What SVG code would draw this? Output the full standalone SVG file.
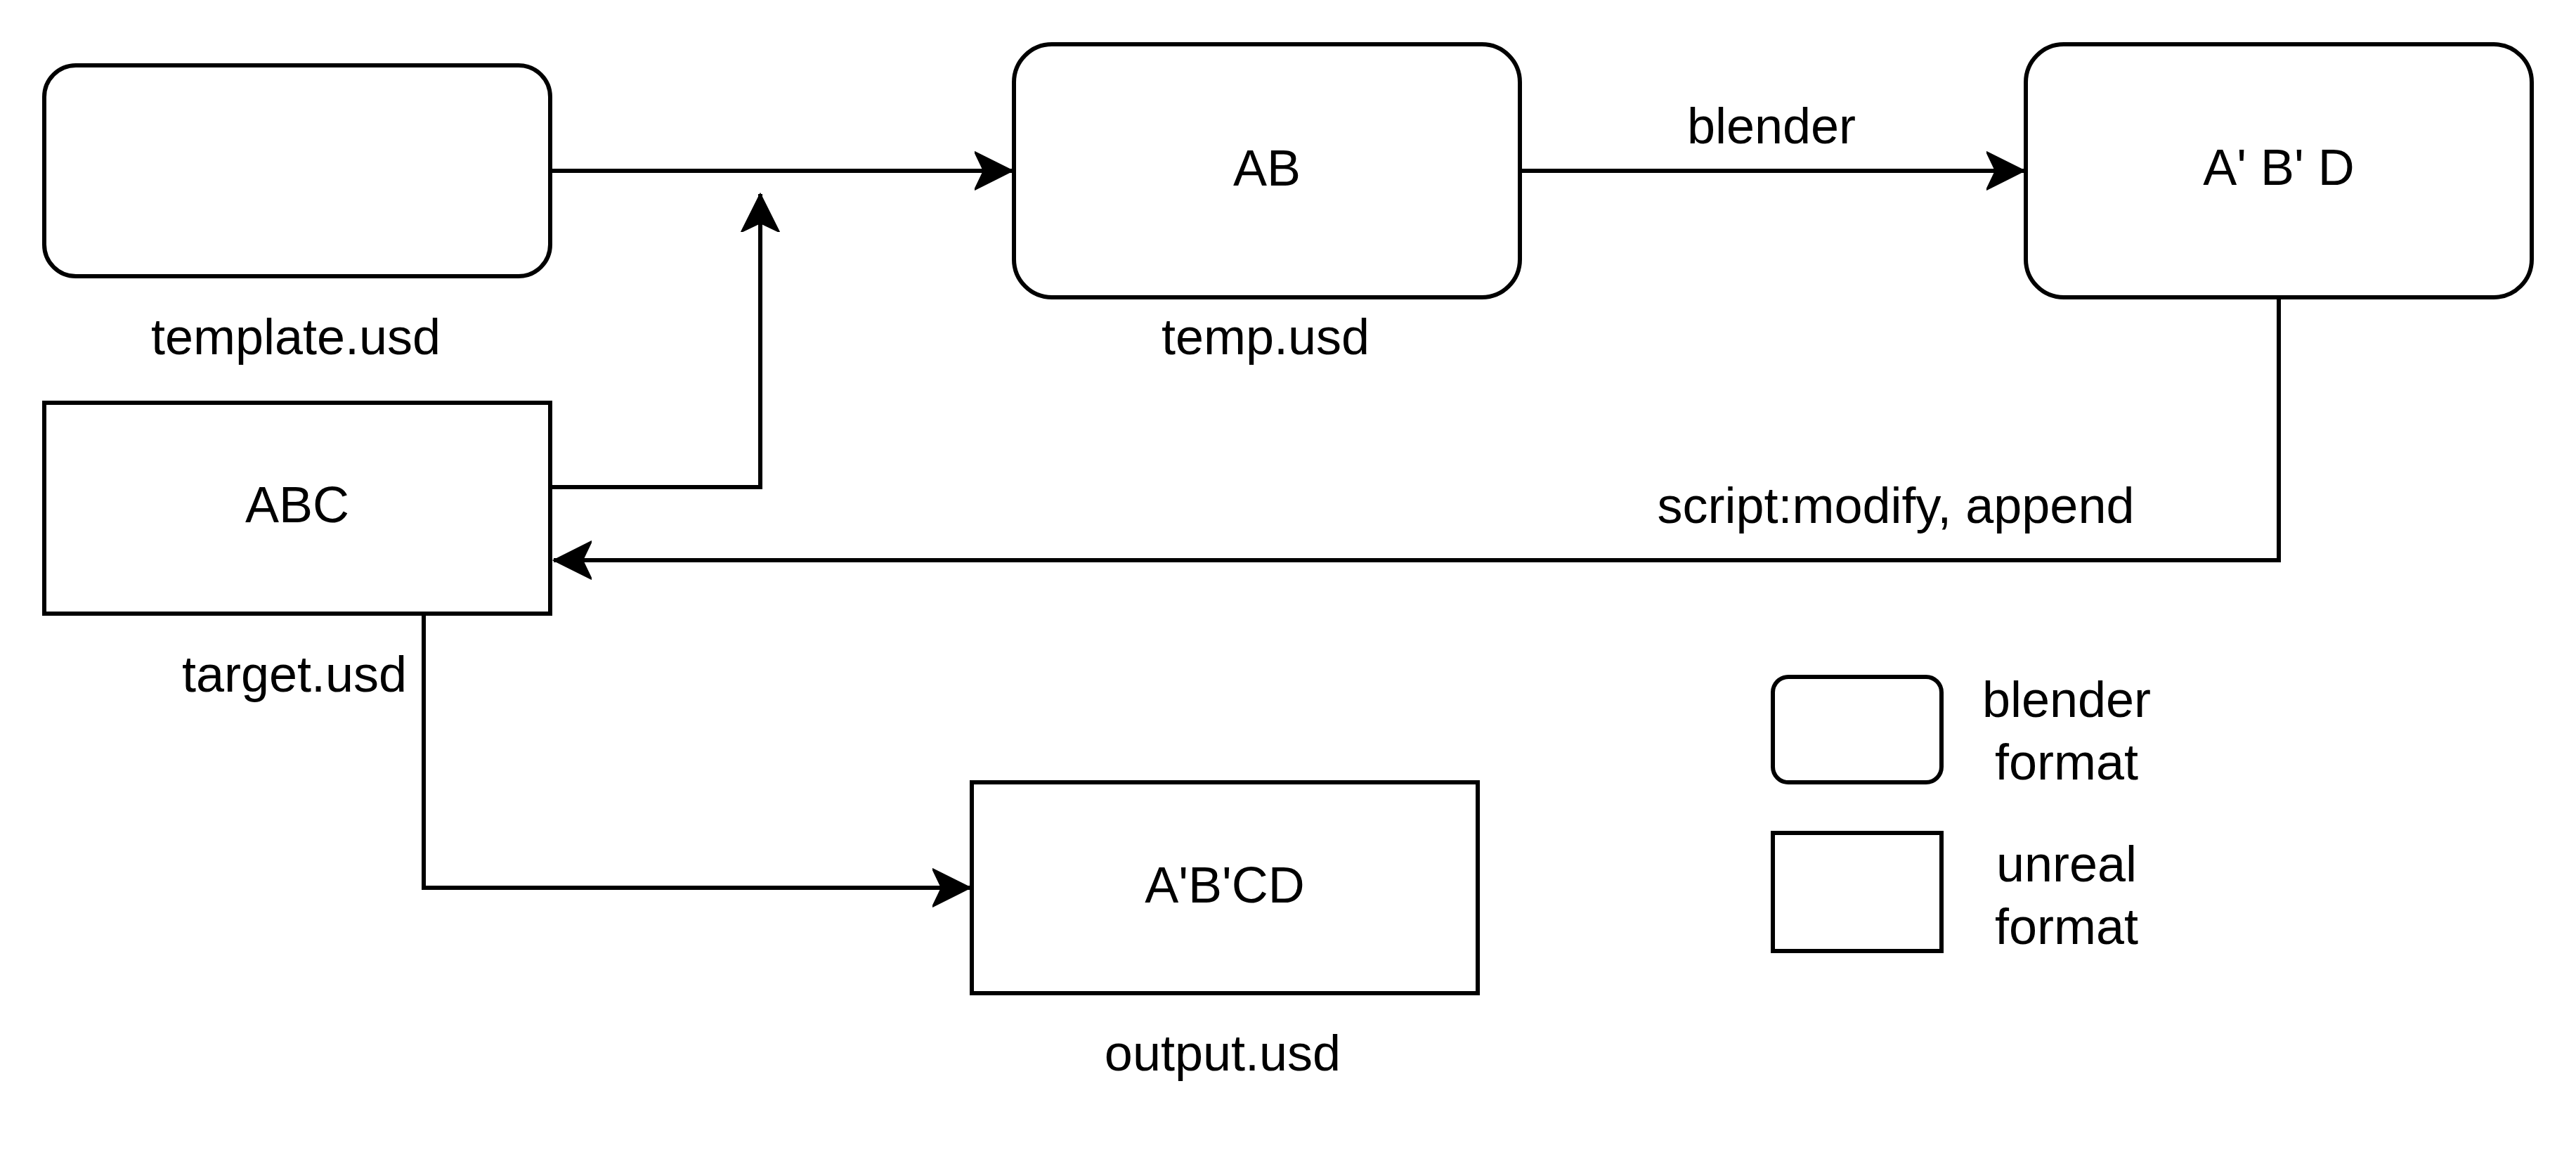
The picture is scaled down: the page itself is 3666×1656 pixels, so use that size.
<svg xmlns="http://www.w3.org/2000/svg" width="3666" height="1656" viewBox="0 0 3666 1656">
<style>
.box{fill:#fff;stroke:#000;stroke-width:6}
.ln{fill:none;stroke:#000;stroke-width:6}
text{font-family:"Liberation Sans",Arial,Helvetica,sans-serif;font-size:72px;fill:#000;text-anchor:middle}
</style>
<defs>
<marker id="arr" viewBox="0 0 56 56" refX="54" refY="28" markerWidth="56" markerHeight="56" markerUnits="userSpaceOnUse" orient="auto">
<path d="M54 28 L0 1 L13 28 L0 55 Z" fill="#000" stroke="#000" stroke-width="2"/>
</marker>
</defs>
<rect width="3666" height="1656" fill="#fff"/>
<g id="connectors">
<path class="ln" d="M783 243 L1441 243" marker-end="url(#arr)"/>
<path class="ln" d="M783 693 L1082 693 L1082 276" marker-end="url(#arr)"/>
<path class="ln" d="M2162 243 L2881 243" marker-end="url(#arr)"/>
<path class="ln" d="M3243 422 L3243 797 L788 797" marker-end="url(#arr)"/>
<path class="ln" d="M603 873 L603 1263 L1381 1263" marker-end="url(#arr)"/>
<text x="2521" y="204">blender</text>
<text x="2698" y="744">script:modify, append</text>
</g>
<g id="template">
<rect class="box" x="63" y="93" width="720" height="300" rx="45" ry="45"/>
<text x="421" y="504">template.usd</text>
</g>
<g id="temp">
<rect class="box" x="1443" y="63" width="720" height="360" rx="54" ry="54"/>
<text x="1803" y="264">AB</text>
<text x="1801" y="504">temp.usd</text>
</g>
<g id="blended">
<rect class="box" x="2883" y="63" width="720" height="360" rx="54" ry="54"/>
<text x="3243" y="263">A' B' D</text>
</g>
<g id="target">
<rect class="box" x="63" y="573" width="720" height="300"/>
<text x="423" y="743">ABC</text>
<text x="419" y="984">target.usd</text>
</g>
<g id="output">
<rect class="box" x="1383" y="1113" width="720" height="300"/>
<text x="1743" y="1284">A'B'CD</text>
<text x="1740" y="1523">output.usd</text>
</g>
<g id="legend-blender">
<rect class="box" x="2523" y="963" width="240" height="150" rx="22" ry="22"/>
<text x="2941" y="1020">blender</text>
<text x="2941" y="1109">format</text>
</g>
<g id="legend-unreal">
<rect class="box" x="2523" y="1185" width="240" height="168"/>
<text x="2941" y="1254">unreal</text>
<text x="2941" y="1343">format</text>
</g>
</svg>
